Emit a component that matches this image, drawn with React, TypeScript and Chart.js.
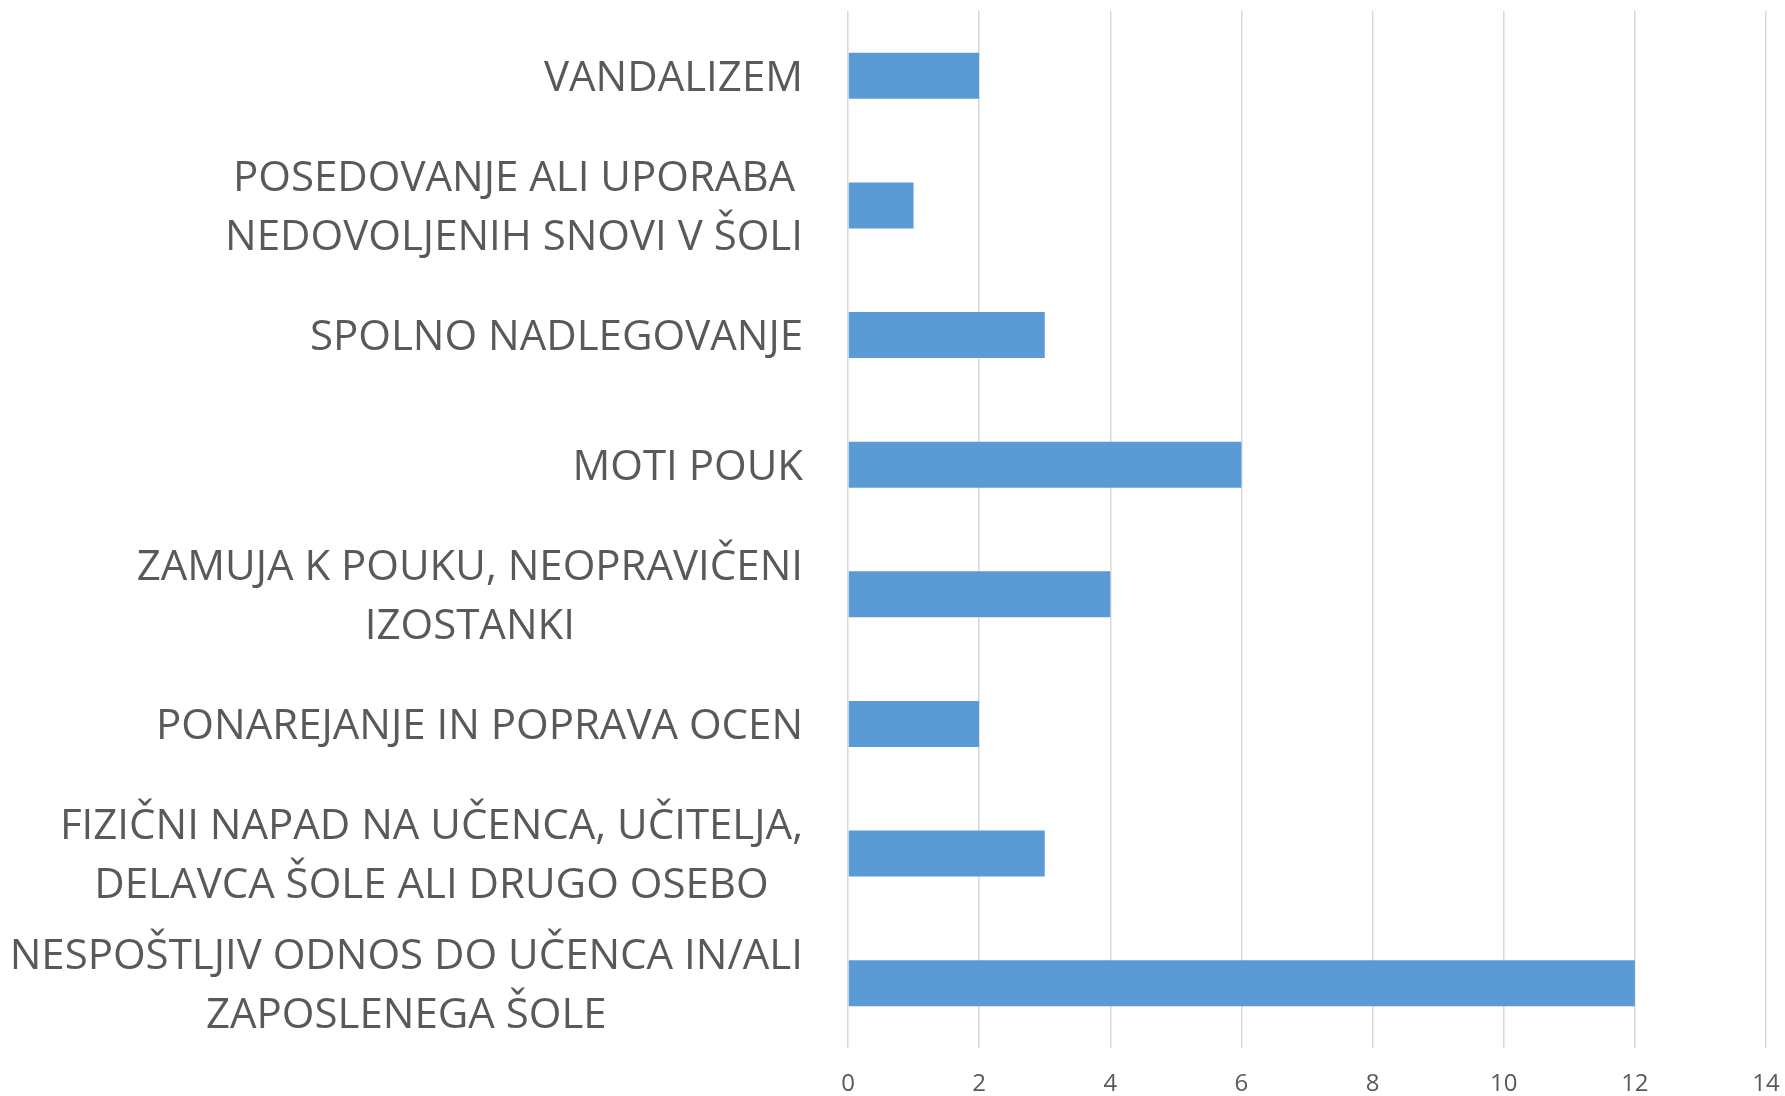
import React, { useEffect, useRef } from "react";
import { Chart, registerables } from "chart.js";

Chart.register(...registerables);

const categories: string[][] = [
  ["VANDALIZEM"],
  ["POSEDOVANJE ALI UPORABA", "NEDOVOLJENIH SNOVI V ŠOLI"],
  ["SPOLNO NADLEGOVANJE"],
  ["MOTI POUK"],
  ["ZAMUJA K POUKU, NEOPRAVIČENI", "IZOSTANKI"],
  ["PONAREJANJE IN POPRAVA OCEN"],
  ["FIZIČNI NAPAD NA UČENCA, UČITELJA,", "DELAVCA ŠOLE ALI DRUGO OSEBO"],
  ["NESPOŠTLJIV ODNOS DO UČENCA IN/ALI", "ZAPOSLENEGA ŠOLE"],
];

const values: number[] = [2, 1, 3, 6, 4, 2, 3, 12];

const xMin = 0;
const xMax = 14;
const xStep = 2;

const TEXT_COLOR = "#595959";
const BAR_COLOR = "#5B9BD5";
const GRID_COLOR = "#D9D9D9";
const FONT_FAMILY = '"Open Sans", sans-serif';
const LABEL_SIZE = 42;
const LINE_H = 59;
const LABEL_GAP = 45;
const LABEL_DY = 3;

const blockLabels = {
  id: "blockLabels",
  afterDraw(chart: any) {
    const ctx = chart.ctx as CanvasRenderingContext2D;
    const yScale = chart.scales.y;
    ctx.save();
    ctx.font = `${LABEL_SIZE}px ${FONT_FAMILY}`;
    ctx.fillStyle = TEXT_COLOR;
    ctx.textAlign = "center";
    ctx.textBaseline = "middle";
    categories.forEach((lines, i) => {
      const cy = yScale.getPixelForValue(i) + LABEL_DY;
      const w = Math.max(...lines.map((l) => ctx.measureText(l).width));
      const cx = yScale.right - LABEL_GAP - w / 2;
      const n = lines.length;
      lines.forEach((l, j) => {
        ctx.fillText(l, cx, cy + (j - (n - 1) / 2) * LINE_H);
      });
    });
    ctx.restore();
  },
};

export default function App() {
  const canvasRef = useRef<HTMLCanvasElement | null>(null);

  useEffect(() => {
    const canvas = canvasRef.current;
    if (!canvas) return;
    const chart = new Chart(canvas, {
      type: "bar",
      data: {
        labels: categories.map((c) => c.join(" ")),
        datasets: [
          {
            data: values,
            backgroundColor: BAR_COLOR,
            borderWidth: 0,
            categoryPercentage: 1,
            barPercentage: 0.355,
          },
        ],
      },
      options: {
        indexAxis: "y",
        responsive: false,
        animation: false,
        devicePixelRatio: 1,
        layout: { padding: { top: 11, right: 19, left: 0, bottom: 0 } },
        plugins: {
          legend: { display: false },
          tooltip: { enabled: false },
          title: { display: false },
        },
        scales: {
          x: {
            min: xMin,
            max: xMax,
            ticks: {
              stepSize: xStep,
              color: TEXT_COLOR,
              font: { family: FONT_FAMILY, size: 24, lineHeight: 3 },
              padding: 0,
            },
            grid: {
              color: GRID_COLOR,
              lineWidth: 1.5,
              drawTicks: false,
            },
            border: { display: false },
            afterFit: (scale: any) => {
              scale.height = 48;
            },
          },
          y: {
            ticks: {
              color: "rgba(0,0,0,0)",
              font: { family: FONT_FAMILY, size: 12 },
            },
            grid: { display: false },
            border: { display: false },
            afterFit: (scale: any) => {
              scale.width = 848;
            },
          },
        },
      },
      plugins: [blockLabels],
    });
    return () => chart.destroy();
  }, []);

  return (
    <div style={{ position: "absolute", left: 0, top: 0, width: 1785, height: 1096, background: "#fff" }}>
      <canvas ref={canvasRef} width={1785} height={1096} style={{ width: 1785, height: 1096, display: "block" }} />
    </div>
  );
}
